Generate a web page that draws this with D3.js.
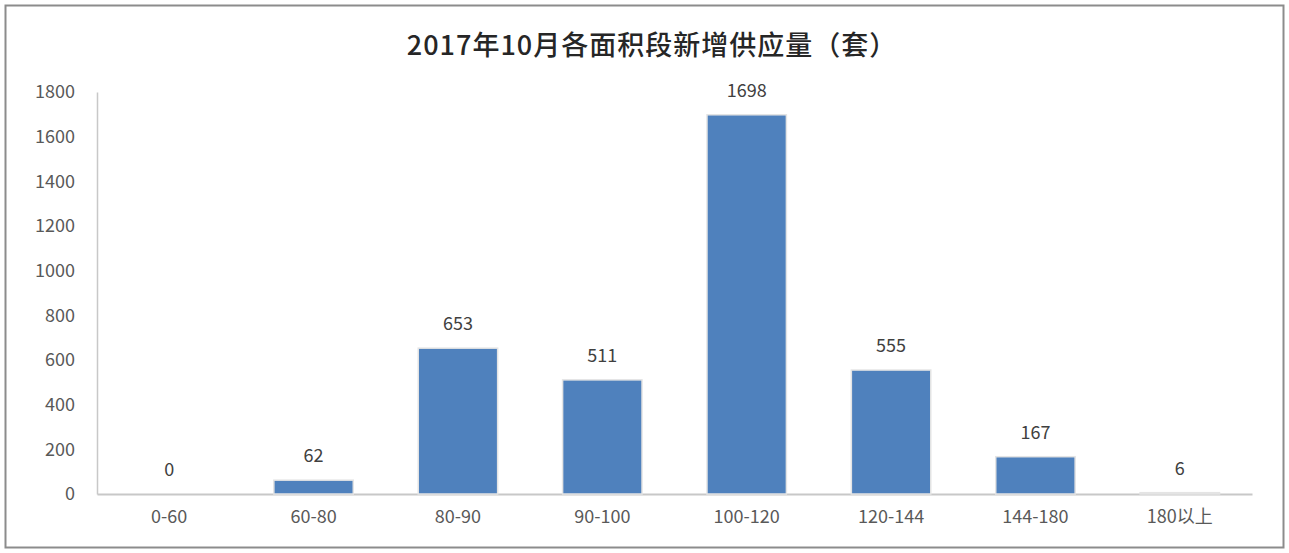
<!DOCTYPE html>
<html>
<head>
<meta charset="utf-8">
<script src="https://cdn.jsdelivr.net/npm/d3@7"></script>
<style>
  body { margin: 0; background: #fff; }
  svg text { font-family: "Noto Sans CJK SC", "DejaVu Sans", sans-serif; }
</style>
</head>
<body>
<div id="chart"></div>
<script>
// 2017年10月 new supply by floor-area band
const categories = ["0-60", "60-80", "80-90", "90-100", "100-120", "120-144", "144-180", "180以上"];
const supply = [0, 62, 653, 511, 1698, 555, 167, 6];
const yTicks = [0, 200, 400, 600, 800, 1000, 1200, 1400, 1600, 1800];

const w = 1289, h = 553;
const margin = { top: 92, right: 37, bottom: 59, left: 97 };
const width = w - margin.left - margin.right;
const height = h - margin.top - margin.bottom;

const root = d3.select("#chart").append("svg")
    .attr("width", w)
    .attr("height", h);

// outer frame
root.append("rect")
    .attr("x", 5.5).attr("y", 5.5)
    .attr("width", w - 11).attr("height", h - 11)
    .attr("fill", "#fff")
    .attr("stroke", "#8c8c8c")
    .attr("stroke-width", 2);

root.append("text")
    .attr("x", 652)
    .attr("y", 55)
    .attr("text-anchor", "middle")
    .attr("font-size", 27)
    .attr("font-weight", 500)
    .attr("letter-spacing", 1)
    .attr("fill", "#262626")
    .text("2017年10月各面积段新增供应量（套）");

const svg = root.append("g")
    .attr("transform", `translate(${margin.left}, ${margin.top})`);

const xScale = d3.scaleBand().domain(categories).range([0, width]).paddingInner(0.45).paddingOuter(0.225);
const yScale = d3.scaleLinear().domain([0, 1800]).range([height, 0]);

// y axis
const yAxis = svg.append("g")
    .call(d3.axisLeft(yScale).tickValues(yTicks).tickFormat(d3.format("d")).tickSize(0).tickPadding(22));
yAxis.select(".domain").attr("stroke", "#c8c8c8").attr("stroke-width", 1.5);
yAxis.selectAll("text")
    .attr("font-size", 18)
    .attr("fill", "#595959")
    .attr("font-family", "'Open Sans', 'DejaVu Sans', sans-serif");

// x axis
const xAxis = svg.append("g")
    .attr("transform", `translate(0, ${height})`)
    .call(d3.axisBottom(xScale).tickSize(0).tickPadding(16));
xAxis.select(".domain").attr("stroke", "#c8c8c8").attr("stroke-width", 2);
xAxis.selectAll("text")
    .attr("font-size", 18)
    .attr("fill", "#595959");

// bars
svg.selectAll(".bar")
    .data(supply)
    .enter()
    .append("rect")
    .attr("class", "bar")
    .attr("x", (d, i) => xScale(categories[i]))
    .attr("y", d => yScale(d))
    .attr("width", xScale.bandwidth())
    .attr("height", d => height - yScale(d))
    .attr("fill", "#4f81bd")
    .attr("stroke", "#e4e4e4")
    .attr("stroke-width", 1.5);

// value labels
svg.selectAll(".label")
    .data(supply)
    .enter()
    .append("text")
    .attr("class", "label")
    .attr("x", (d, i) => xScale(categories[i]) + xScale.bandwidth() / 2)
    .attr("y", d => yScale(d) - 18)
    .attr("text-anchor", "middle")
    .attr("font-size", 18)
    .attr("fill", "#404040")
    .attr("font-family", "'Open Sans', 'DejaVu Sans', sans-serif")
    .text(d => d);
</script>
</body>
</html>
